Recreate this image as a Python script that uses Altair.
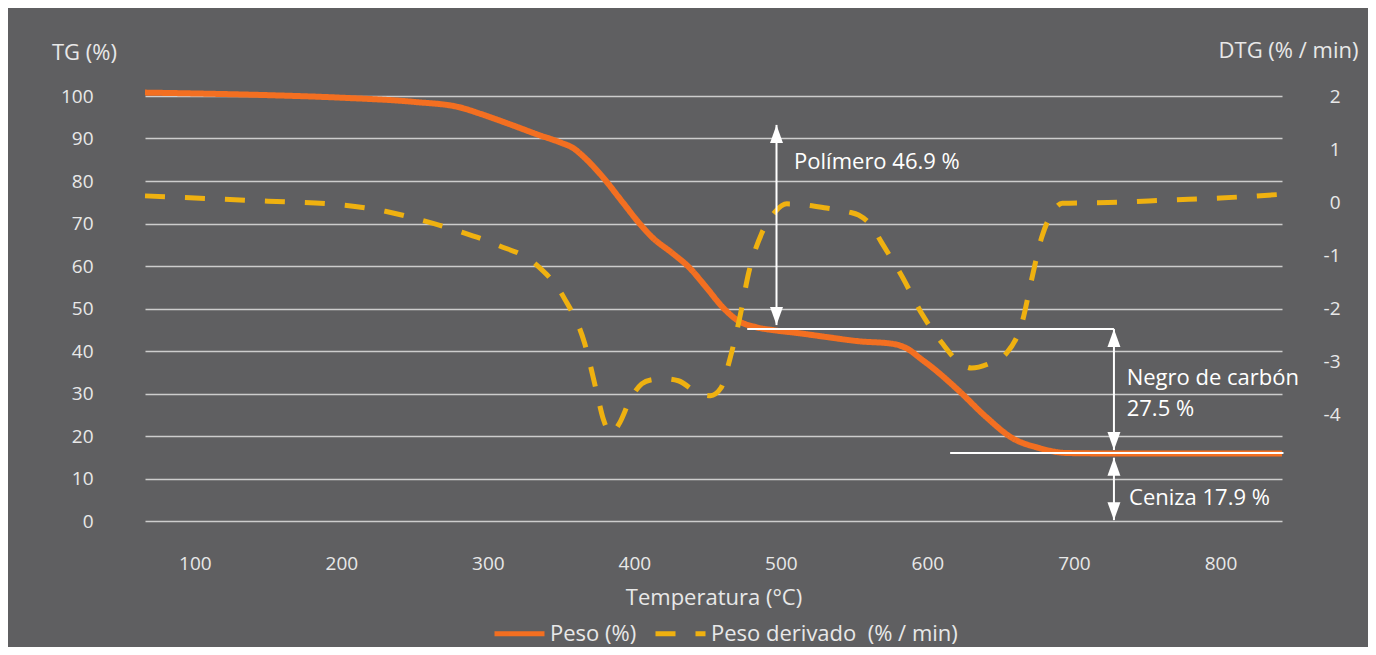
import altair as alt
import pandas as pd

# ---- data ----
T_TG = [66, 100, 150, 200, 250, 280, 295, 313, 335, 350, 358, 366, 376, 392, 403, 412,
        426, 437, 449, 460, 470, 483, 495, 512, 531, 553, 576, 587, 595, 603, 621, 640,
        658, 676, 695, 720, 842]
TG = [100.8, 100.6, 100.2, 99.6, 98.6, 97.4, 95.8, 93.6, 90.8, 89.0, 87.8, 85.5, 81.9,
      75.0, 70.2, 66.8, 63.0, 59.8, 55.0, 50.4, 47.3, 45.6, 44.9, 44.2, 43.3, 42.3, 41.7,
      40.4, 38.3, 36.2, 30.8, 24.5, 19.5, 17.2, 16.0, 15.9, 15.9]

T_DTG = [66, 100, 150, 200, 230, 255, 282, 307, 332, 352, 366, 374, 379, 384, 390, 397,
         405, 412, 420, 430, 444, 452, 459, 465, 472, 478, 487, 496, 504, 516, 531, 546,
         553, 562, 569, 583, 596, 610, 621, 630, 641, 654, 665, 671, 678, 684, 688, 692,
         730, 763, 800, 842]
DTG = [0.12, 0.08, 0.02, -0.05, -0.17, -0.34, -0.56, -0.81, -1.15, -1.8, -2.65, -3.54,
       -4.1, -4.35, -4.15, -3.72, -3.42, -3.34, -3.32, -3.36, -3.6, -3.64, -3.5, -2.97,
       -2.16, -1.33, -0.58, -0.18, -0.03, -0.05, -0.11, -0.18, -0.24, -0.45, -0.77,
       -1.41, -2.09, -2.65, -3.0, -3.12, -3.05, -2.84, -2.22, -1.47, -0.66, -0.25, -0.09,
       -0.02, 0.0, 0.04, 0.08, 0.15]

SERIES = ["Peso (%)", "Peso derivado\u00a0 (% / min)"]
X_TICKS = [100, 200, 300, 400, 500, 600, 700, 800]
TG_TICKS = [0, 10, 20, 30, 40, 50, 60, 70, 80, 90, 100]
DTG_TICKS = [2, 1, 0, -1, -2, -3, -4]

# annotation geometry in data units (temperature, TG %)
ARROW_X = [497, 727.3, 727.3]
ARROW_TOP = [93.2, 45.2, 14.9]
ARROW_BOT = [46.1, 16.7, 0.2]
HLINE_X1 = [477, 615.5]
HLINE_X2 = [727.3, 843]
HLINE_Y = [45.2, 16.0]
LABEL_TEXT = ["Polímero 46.9 %", "Negro de carbón", "27.5 %", "Ceniza 17.9 %"]
LABEL_X = [509, 736, 736, 737.6]
LABEL_Y = [84.5, 33.6, 26.4, 5.4]

ORANGE = "#f36f21"
YELLOW = "#efb110"
BG = "#5f5f61"
FONT = "Open Sans"
LABEL_COLOR = "#e8e8e8"

tg_df = pd.DataFrame({"T": T_TG, "v": TG, "series": SERIES[0]})
dtg_df = pd.DataFrame({"T": T_DTG, "v": DTG, "series": SERIES[1]})
arrows_df = pd.DataFrame({"x": ARROW_X, "top": ARROW_TOP, "bot": ARROW_BOT})
hl_df = pd.DataFrame({"x1": HLINE_X1, "x2": HLINE_X2, "y": HLINE_Y})
lab_df = pd.DataFrame({"t": LABEL_TEXT, "x": LABEL_X, "y": LABEL_Y})

xscale = alt.Scale(domain=[66, 842], nice=False, zero=False)
xaxis = alt.Axis(values=X_TICKS, grid=False, domain=False, ticks=False,
                 labelPadding=33, labelFontSize=19, labelColor=LABEL_COLOR, labelFont=FONT,
                 title="Temperatura (°C)", titleFont=FONT, titleFontSize=22,
                 titleFontWeight="normal", titleColor=LABEL_COLOR, titleY=76,
                 titleBaseline="middle")


def X(field):
    return alt.X(field, type="quantitative", scale=xscale, axis=xaxis)


tg_scale = alt.Scale(domain=[0, 100], nice=False, zero=False)
left_axis = alt.Axis(orient="left", values=TG_TICKS, grid=True, gridColor="#cdcdcd",
                     gridWidth=1.5, domain=False, ticks=False, labelPadding=52,
                     labelFontSize=19, labelColor=LABEL_COLOR, labelFont=FONT,
                     title="TG (%)", titleAngle=0, titleX=-61, titleY=-44,
                     titleAlign="center", titleBaseline="middle", titleFont=FONT,
                     titleFontSize=22, titleFontWeight="normal", titleColor=LABEL_COLOR)
right_axis = alt.Axis(orient="right", values=DTG_TICKS, grid=False, domain=False,
                      ticks=False, labelPadding=58, labelAlign="right",
                      labelExpr="datum.value < 0 ? '-' + abs(datum.value) : '' + datum.value",
                      labelFontSize=19, labelColor=LABEL_COLOR, labelFont=FONT,
                      title="DTG (% / min)", titleAngle=0, titleX=6, titleY=-46,
                      titleAlign="center", titleBaseline="middle", titleFont=FONT,
                      titleFontSize=22, titleFontWeight="normal", titleColor=LABEL_COLOR)

legend = alt.Legend(orient="none", legendX=347, legendY=510, direction="horizontal",
                    title=None, symbolType="stroke", symbolSize=2500,
                    symbolStrokeWidth=5, labelFont=FONT, labelFontSize=22,
                    labelColor=LABEL_COLOR, labelOffset=3, columnPadding=8,
                    padding=0, labelLimit=400)
color = alt.Color("series:N", scale=alt.Scale(domain=SERIES, range=[ORANGE, YELLOW]),
                  legend=legend)
dash = alt.StrokeDash("series:N", scale=alt.Scale(domain=SERIES, range=[[1, 0], [20, 20]]),
                      legend=legend)

tg_line = alt.Chart(tg_df).mark_line(strokeWidth=6, interpolate="monotone").encode(
    x=X("T"), y=alt.Y("v:Q", scale=tg_scale, axis=left_axis), color=color, strokeDash=dash)

dtg_line = alt.Chart(dtg_df).mark_line(strokeWidth=5, interpolate="monotone").encode(
    x=X("T"), y=alt.Y("v:Q", scale=alt.Scale(domain=[-6, 2], nice=False, zero=False),
                      axis=right_axis),
    color=color, strokeDash=dash)

ann_scale = alt.Scale(domain=[0, 100], nice=False, zero=False)

rules = alt.Chart(arrows_df).mark_rule(color="white", strokeWidth=2).encode(
    x=X("x"), y=alt.Y("top:Q", scale=ann_scale, axis=None), y2="bot:Q")

hlines = alt.Chart(hl_df).mark_rule(color="white", strokeWidth=2).encode(
    x=X("x1"), x2="x2:Q", y=alt.Y("y:Q", scale=ann_scale, axis=None))

heads_up = alt.Chart(arrows_df).mark_point(
    shape="M0,0L0.36,1L-0.36,1Z", size=1296, filled=True, color="white", opacity=1
).encode(x=X("x"), y=alt.Y("top:Q", scale=ann_scale, axis=None))

heads_down = alt.Chart(arrows_df).mark_point(
    shape="M0,0L0.36,-1L-0.36,-1Z", size=1296, filled=True, color="white", opacity=1
).encode(x=X("x"), y=alt.Y("bot:Q", scale=ann_scale, axis=None))

texts = alt.Chart(lab_df).mark_text(align="left", baseline="middle", font=FONT,
                                    fontSize=22, color="white").encode(
    x=X("x"), y=alt.Y("y:Q", scale=ann_scale, axis=None), text="t:N")

chart = alt.layer(tg_line, dtg_line, rules, hlines, heads_up, heads_down, texts
                  ).resolve_scale(y="independent").properties(
    width=1137, height=425,
    padding={"left": 137, "top": 88, "right": 86, "bottom": 126},
    autosize=alt.AutoSizeParams(type="none"),
    background=BG,
).configure_view(stroke=None)

chart.save("out.html", embed_options={"renderer": "svg", "actions": False})
